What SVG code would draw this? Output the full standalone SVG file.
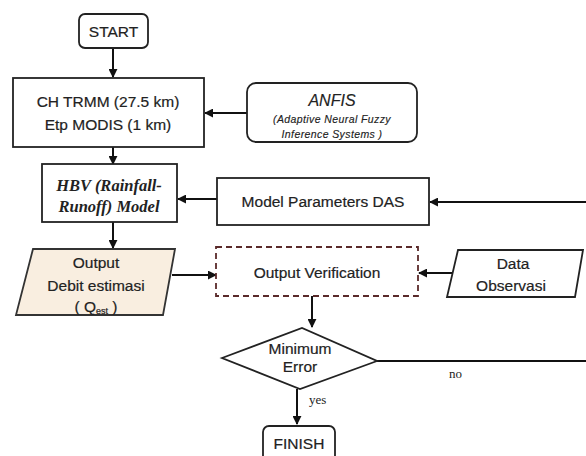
<svg xmlns="http://www.w3.org/2000/svg" width="586" height="456" viewBox="0 0 586 456">
<style>
.box{fill:#fff;stroke:#222;stroke-width:1.8}
.t{font-family:"Liberation Sans",Arial,sans-serif;font-size:15.5px;fill:#222;stroke:#222;stroke-width:0.2;text-anchor:middle}
.it{font-family:"Liberation Sans",Arial,sans-serif;font-style:italic;fill:#222;stroke:#222;stroke-width:0.15;text-anchor:middle}
.sf{font-family:"Liberation Serif","DejaVu Serif",serif;font-style:italic;font-weight:bold;font-size:16.5px;fill:#222;text-anchor:middle}
.lbl{font-family:"Liberation Serif",serif;font-size:13px;fill:#222}
.c{fill:none;stroke:#111;stroke-width:2}
</style>
<defs>
<marker id="ah" viewBox="0 0 10 10" refX="9" refY="5" markerWidth="4.5" markerHeight="4.5" orient="auto">
<path d="M0,0 L10,5 L0,10 Z" fill="#111"/>
</marker>
</defs>
<rect width="586" height="456" fill="#fff"/>
<g id="connectors">
<line class="c" x1="113" y1="48" x2="113" y2="77" marker-end="url(#ah)"/>
<line class="c" x1="247" y1="113" x2="205" y2="113" marker-end="url(#ah)"/>
<line class="c" x1="113" y1="147" x2="113" y2="164" marker-end="url(#ah)"/>
<line class="c" x1="217" y1="199" x2="178" y2="199" marker-end="url(#ah)"/>
<line class="c" x1="586" y1="202" x2="430" y2="202" marker-end="url(#ah)"/>
<line class="c" x1="113" y1="222" x2="113" y2="248" marker-end="url(#ah)"/>
<line class="c" x1="172" y1="275" x2="216" y2="275" marker-end="url(#ah)"/>
<line class="c" x1="452" y1="273" x2="419" y2="273" marker-end="url(#ah)"/>
<line class="c" x1="312" y1="296" x2="312" y2="327" marker-end="url(#ah)"/>
<line class="c" x1="377" y1="361" x2="586" y2="361"/>
<line class="c" x1="297" y1="389" x2="297" y2="424" marker-end="url(#ah)"/>
<text class="lbl" x="449" y="378">no</text>
<text class="lbl" x="309" y="404">yes</text>
</g>
<g id="start">
<rect class="box" x="79" y="14" width="69" height="34" rx="6"/>
<text class="t" x="113.5" y="37">START</text>
</g>
<g id="ch">
<rect class="box" x="13" y="78" width="191" height="69"/>
<text class="t" x="108" y="107">CH TRMM (27.5 km)</text>
<text class="t" x="108" y="130">Etp MODIS (1 km)</text>
</g>
<g id="anfis">
<rect class="box" x="247" y="83" width="170" height="59" rx="9"/>
<text class="it" x="332" y="106" font-size="16">ANFIS</text>
<text class="it" x="332" y="123" font-size="10.5" letter-spacing="0.4">(Adaptive Neural Fuzzy</text>
<text class="it" x="332" y="138" font-size="10.5" letter-spacing="0.4">Inference Systems )</text>
</g>
<g id="hbv">
<rect class="box" x="42" y="164" width="135" height="58"/>
<text class="sf" x="109" y="191">HBV (Rainfall-</text>
<text class="sf" x="109" y="212">Runoff) Model</text>
</g>
<g id="params">
<rect class="box" x="217" y="178" width="212" height="47"/>
<text class="t" x="323" y="207">Model Parameters DAS</text>
</g>
<g id="output">
<polygon points="33,249 175,249 163,315 16,315" fill="#f9eee0" stroke="#333" stroke-width="1.8"/>
<text class="t" x="96" y="268">Output</text>
<text class="t" x="96" y="291">Debit estimasi</text>
<text class="t" x="96" y="312">( Q<tspan font-size="9" dy="2">est</tspan><tspan dy="-2"> )</tspan></text>
</g>
<g id="verification">
<rect x="216" y="247" width="202" height="49" fill="#fff" stroke="#5a2a2a" stroke-width="1.8" stroke-dasharray="6,4"/>
<text class="t" x="317" y="278">Output Verification</text>
</g>
<g id="data">
<polygon points="458,250 583,250 575,297 447,297" class="box"/>
<text class="t" x="513" y="269">Data</text>
<text class="t" x="511" y="291">Observasi</text>
</g>
<g id="decision">
<polygon points="222,358 302,328 377,361 300,389" class="box"/>
<text class="t" x="300" y="354" font-size="13">Minimum</text>
<text class="t" x="300" y="372" font-size="13">Error</text>
</g>
<g id="finish">
<rect class="box" x="263" y="426" width="72" height="36" rx="6"/>
<text class="t" x="299" y="449">FINISH</text>
</g>
</svg>
